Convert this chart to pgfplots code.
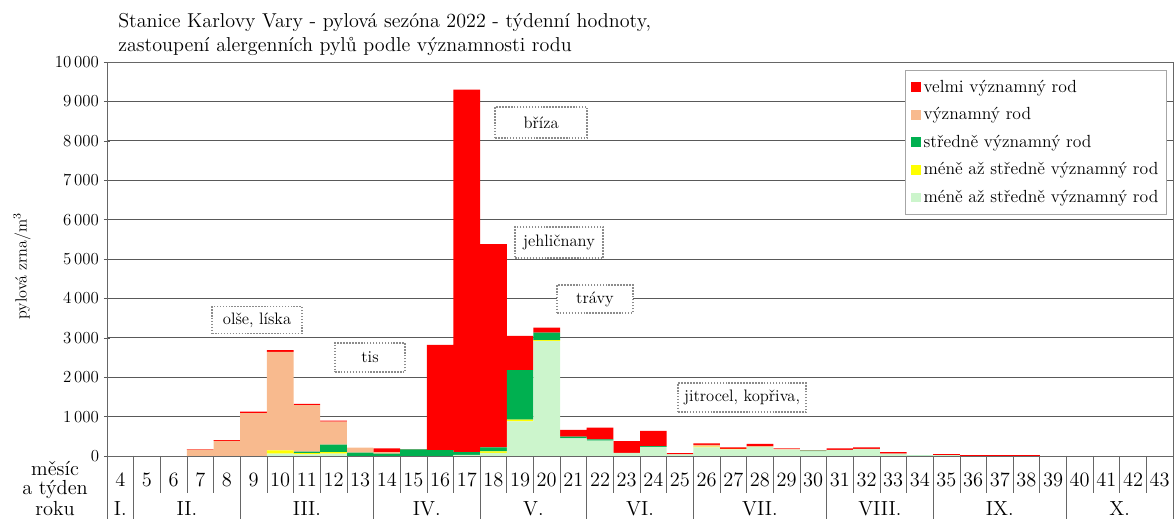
\documentclass[border=0pt]{standalone}
\usepackage{pgfplots}
\usepackage{pgfplotstable}
\pgfplotsset{compat=1.18}
\definecolor{cRed}{HTML}{FF0000}
\definecolor{cOr}{HTML}{F8BA8E}
\definecolor{cGr}{HTML}{00B050}
\definecolor{cYe}{HTML}{FFFF00}
\definecolor{cLg}{HTML}{CCF5CC}
\tikzset{wk/.style={anchor=base, inner sep=0pt, font=\fontsize{14.5}{16}\selectfont},
  ann/.style={draw=black!45, densely dotted, line width=1.1pt, fill=white, inner sep=0pt, font=\fontsize{11.8}{13}\selectfont}}
\pgfplotstableread{
w lg ye gr or rd
4 0 0 0 0 0
5 0 0 0 0 0
6 0 0 0 0 0
7 0 0 0 160 15
8 0 0 0 385 15
9 0 0 0 1090 35
10 60 80 0 2500 50
11 40 30 40 1180 30
12 60 40 190 580 30
13 0 0 85 125 0
14 0 0 60 40 95
15 0 0 165 0 10
16 0 0 150 0 2670
17 30 0 70 0 9200
18 80 40 100 0 5160
19 880 40 1260 0 870
20 2920 20 190 0 125
21 450 0 40 0 170
22 390 0 30 0 300
23 80 0 0 0 300
24 230 0 20 0 385
25 40 0 0 0 35
26 220 20 0 40 40
27 170 10 0 0 40
28 230 0 0 20 55
29 160 0 0 20 15
30 120 0 15 10 7
31 155 0 0 0 40
32 180 0 0 0 40
33 60 0 0 0 40
34 15 0 10 0 0
35 20 0 0 0 30
36 0 0 0 0 20
37 0 0 0 0 20
38 0 0 0 0 20
39 0 0 0 0 0
40 0 0 0 0 0
41 0 0 0 0 0
42 0 0 0 0 0
43 0 0 0 0 0
}\data
\begin{document}
\begin{tikzpicture}
\path[use as bounding box] (-2.675,-1.575) rectangle (26.725,11.4);
\begin{axis}[
  at={(0,0)}, anchor=south west,
  scale only axis, width=26.65cm, height=9.85cm,
  xmin=3.5, xmax=43.5, ymin=0, ymax=10000,
  ybar stacked, bar width=1, 
  xtick=\empty,
  minor xtick={3.5,4.5,...,43.5},
  xminorgrids, minor grid style={black!7},
  ytick={0,1000,...,10000},
  ymajorgrids, major grid style={black!65, line width=0.6pt},
  ytick pos=left, tick align=center, major tick length=0.15cm,
  tick style={black!65},
  axis line style={black!60},
  yticklabel style={font=\fontsize{12}{14}\selectfont, /pgf/number format/1000 sep={\,}},
  scaled y ticks=false,
  clip=false,
  reverse legend,
  legend cell align=left,
  legend style={at={(rel axis cs:0.7486,0.98)}, anchor=north west,
     draw=black!35, fill=white, font=\fontsize{12.5}{15}\selectfont,
     row sep=5.4pt, inner xsep=4pt, inner ysep=5pt},
  legend image code/.code={\fill[#1] (0pt,-3.5pt) rectangle (7pt,3.5pt);},
]
\addplot+[fill=cLg, draw=none] table[x=w,y=lg]{\data};
\addplot+[fill=cYe, draw=none] table[x=w,y=ye]{\data};
\addplot+[fill=cGr, draw=none] table[x=w,y=gr]{\data};
\addplot+[fill=cOr, draw=none] table[x=w,y=or]{\data};
\addplot+[fill=cRed, draw=none] table[x=w,y=rd]{\data};
\legend{méně až středně významný rod\hspace{0.45cm},méně až středně významný rod,středně významný rod,významný rod,velmi významný rod}

% annotation boxes
\node[ann, minimum width=2.25cm, minimum height=0.675cm] at (axis cs:9.13,3452) {olše, líska};
\node[ann, minimum width=1.75cm, minimum height=0.73cm] at (axis cs:13.37,2500) {tis};
\node[ann, minimum width=2.3cm, minimum height=0.78cm] at (axis cs:19.79,8464) {bříza};
\node[ann, minimum width=2.2cm, minimum height=0.78cm] at (axis cs:20.46,5419) {jehličnany};
\node[ann, minimum width=1.9cm, minimum height=0.7cm] at (axis cs:21.81,3985) {trávy};
\node[ann, minimum width=3.2cm, minimum height=0.73cm] at (axis cs:27.33,1485) {jitrocel, kopřiva,};

% week table
\foreach \x in {4.5,5.5,...,42.5} {\edef\tmp{\noexpand\draw[black!60] (axis cs:\x,0) -- (axis cs:\x,-940);}\tmp}
\foreach \x in {3.5,4.5,8.5,13.5,17.5,21.5,25.5,30.5,34.5,39.5,43.5} {\edef\tmp{\noexpand\draw[black!60] (axis cs:\x,0) -- (axis cs:\x,-2600);}\tmp}
\foreach \w in {4,...,43} {\edef\tmp{\noexpand\node[wk] at (axis cs:\w,-774) {\w};}\tmp}
\foreach \m/\x in {I./4,II./6.5,III./11,IV./15.5,V./19.5,VI./23.5,VII./28,VIII./32.5,IX./37,X./41.5} {\edef\tmp{\noexpand\node[wk] at (axis cs:\x,-1515) {\m};}\tmp}
\node[wk] at (axis cs:1.55,-483) {měsíc};
\node[wk] at (axis cs:1.55,-990) {a týden};
\node[wk] at (axis cs:1.55,-1510) {roku};

% y label
\node[rotate=90, font=\fontsize{11.5}{13}\selectfont] at ([xshift=-2.125cm]axis cs:3.5,4822) {pylová zrna/m$^3$};
% title
\node[anchor=south west, align=left, inner sep=0pt, font=\fontsize{14.3}{17.7}\selectfont] at ([xshift=0.275cm, yshift=0.14cm]rel axis cs:0,1) {Stanice Karlovy Vary - pylová sezóna 2022 - týdenní hodnoty,\\zastoupení alergenních pylů podle významnosti rodu};
\end{axis}
\end{tikzpicture}
\end{document}
